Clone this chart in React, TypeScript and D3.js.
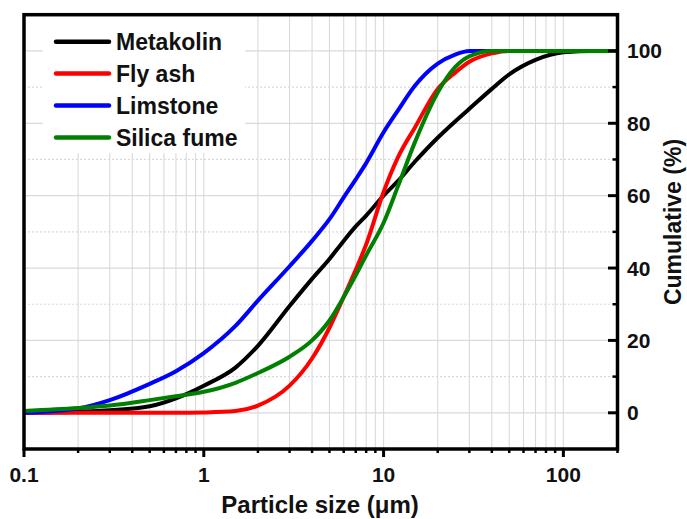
import React from "react";
import { scaleLog, scaleLinear, line, curveMonotoneX, range } from "d3";

// particle sizes (um) where the curves were read
const sizes = [0.1, 0.2, 0.3, 0.5, 0.7, 1, 1.5, 2, 3, 4, 5, 6, 7, 8, 10, 12, 15, 20, 25, 30, 40, 50, 70, 100, 150, 200];
const metakolin = [0, 0.3, 0.7, 1.8, 4, 7.5, 12.5, 18.5, 29.5, 37, 42.5, 47.5, 51.5, 54.5, 60, 64, 69.5, 76, 80.5, 84, 89.5, 93.5, 97.5, 99.6, 100, 100];
const flyAsh = [0, 0, 0, 0, 0, 0.1, 0.5, 2, 7.5, 15, 23.5, 32, 39.5, 46.5, 61, 70.5, 79, 89.5, 94, 97, 99.3, 100, 100, 100, 100, 100];
const limstone = [0, 1.2, 3.5, 8, 11.5, 16.5, 24, 31, 40.5, 47.5, 53.5, 59.5, 64.5, 69, 77.5, 83.5, 90.5, 96.5, 99, 100, 100, 100, 100, 100, 100, 100];
const silicaFume = [0.5, 1.3, 2, 3.5, 4.6, 5.8, 8.3, 11, 15.5, 20, 25.5, 32, 38, 43.5, 52.5, 62.5, 75, 88.5, 95.5, 98.5, 100, 100, 100, 100, 100, 100];

const seriesNames = ["Metakolin", "Fly ash", "Limstone", "Silica fume"];
const seriesColors = ["#000000", "#ff0000", "#0000ff", "#008000"];
const seriesValues = [metakolin, flyAsh, limstone, silicaFume];

const xTicks = [0.1, 1, 10, 100];
const xTickLabels = ["0.1", "1", "10", "100"];
const yTicks = [0, 20, 40, 60, 80, 100];

const W = 687;
const H = 519;
const left = 24, right = 617.5, top = 14.7, bottom = 449;
const font = "'Liberation Sans', Arial, sans-serif";

function App() {
  const x = scaleLog().domain([0.1, 200]).range([left, right]);
  const y = scaleLinear().domain([-10, 110]).range([bottom, top]);

  // every 1..9 multiple of each decade
  const logTicks: number[] = [];
  [0.1, 1, 10, 100].forEach(d => {
    range(1, 10).forEach(m => {
      const v = +(d * m).toPrecision(3);
      if (v <= 200) logTicks.push(v);
    });
  });
  const minorX = logTicks.filter(v => !xTicks.includes(v));
  const yMinor = range(10, 100, 20);

  const path = line<number>()
    .x((_, i) => x(sizes[i]))
    .y(v => y(v))
    .curve(curveMonotoneX);

  return (
    <svg width={W} height={H} style={{ position: "absolute", left: 0, top: 0, background: "#fff" }}>
      <rect x={0} y={0} width={W} height={H} fill="#fff" />
      {/* grid */}
      {logTicks.map(v => (
        <line key={"gx" + v} x1={x(v)} x2={x(v)} y1={top} y2={bottom} stroke="#dadada" strokeWidth={1.1} />
      ))}
      {yTicks.map(v => (
        <line key={"gy" + v} x1={left} x2={right} y1={y(v)} y2={y(v)} stroke="#dadada" strokeWidth={1.2} />
      ))}
      {yMinor.map(v => (
        <line key={"gm" + v} x1={left} x2={right} y1={y(v)} y2={y(v)} stroke="#dadada" strokeWidth={1.2} strokeDasharray="2,2" />
      ))}

      {/* legend background */}
      <rect x={43} y={16} width={202} height={137} fill="#fff" />

      {/* curves */}
      {seriesValues.map((vals, i) => (
        <path key={seriesNames[i]} d={path(vals) || ""} fill="none" stroke={seriesColors[i]} strokeWidth={4} strokeLinejoin="round" />
      ))}

      {/* frame */}
      <rect x={left} y={top} width={right - left} height={bottom - top} fill="none" stroke="#000" strokeWidth={3.5} />

      {/* bottom ticks */}
      {xTicks.map(v => (
        <line key={"tx" + v} x1={x(v)} x2={x(v)} y1={bottom} y2={bottom + 8} stroke="#000" strokeWidth={3} />
      ))}
      {minorX.map(v => (
        <line key={"mx" + v} x1={x(v)} x2={x(v)} y1={bottom} y2={bottom + 4} stroke="#000" strokeWidth={2.5} />
      ))}
      {xTicks.map((v, i) => (
        <text key={"lx" + v} x={x(v)} y={482} textAnchor="middle" fontFamily={font} fontWeight="bold" fontSize={21} fill="#111">
          {xTickLabels[i]}
        </text>
      ))}

      {/* right ticks */}
      {yTicks.map(v => (
        <line key={"ty" + v} x1={right} x2={right - 9.5} y1={y(v)} y2={y(v)} stroke="#000" strokeWidth={3} />
      ))}
      {yMinor.map(v => (
        <line key={"my" + v} x1={right} x2={right - 5} y1={y(v)} y2={y(v)} stroke="#000" strokeWidth={2.5} />
      ))}
      {yTicks.map(v => (
        <text key={"ly" + v} x={627} y={y(v) + 7.5} fontFamily={font} fontWeight="bold" fontSize={21} fill="#111">
          {v}
        </text>
      ))}

      {/* axis titles */}
      <text x={320} y={513} textAnchor="middle" fontFamily={font} fontWeight="bold" fontSize={24} fill="#111">
        Particle size (μm)
      </text>
      <text transform={`translate(681,222) rotate(-90)`} textAnchor="middle" fontFamily={font} fontWeight="bold" fontSize={23} fill="#111">
        Cumulative (%)
      </text>

      {/* legend */}
      {seriesNames.map((name, i) => (
        <g key={"lg" + name} transform={`translate(0,${41.7 + i * 31.9})`}>
          <line x1={56} x2={109} y1={0} y2={0} stroke={seriesColors[i]} strokeWidth={4.5} strokeLinecap="round" />
          <text x={116} y={8.3} fontFamily={font} fontWeight="bold" fontSize={23} fill="#111">
            {name}
          </text>
        </g>
      ))}
    </svg>
  );
}

export default App;
